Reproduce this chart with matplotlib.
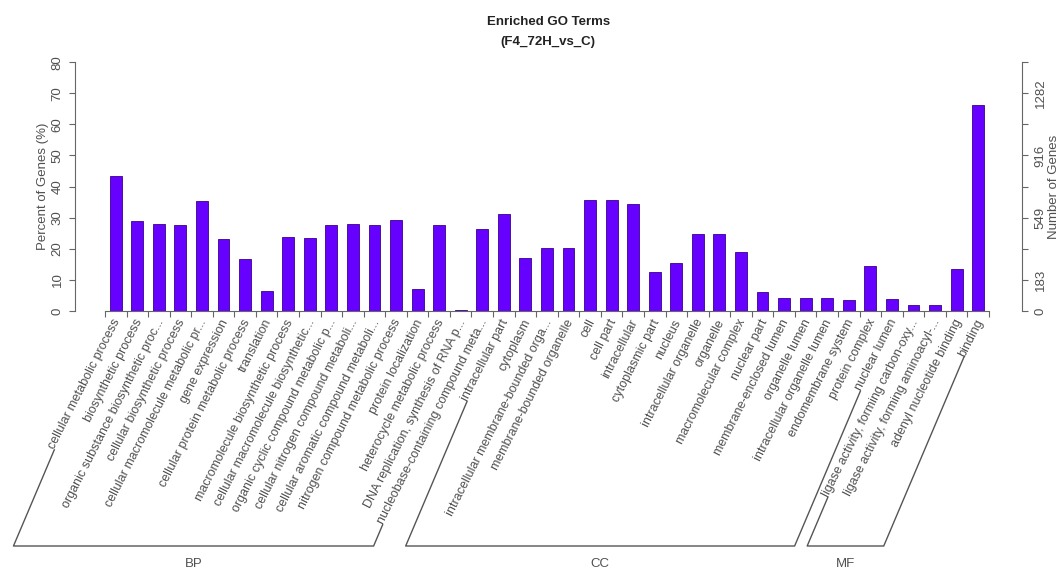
import matplotlib
matplotlib.use("Agg")
import matplotlib.pyplot as plt
import numpy as np
from matplotlib.lines import Line2D
from matplotlib.transforms import IdentityTransform

plt.rcParams['font.family'] = ['Liberation Sans', 'DejaVu Sans']

# ---------------- data ----------------
bp_terms = [
    "cellular metabolic process", "biosynthetic process",
    "organic substance biosynthetic proc...", "cellular biosynthetic process",
    "cellular macromolecule metabolic pr...", "gene expression",
    "cellular protein metabolic process", "translation",
    "macromolecule biosynthetic process", "cellular macromolecule biosynthetic...",
    "organic cyclic compound metabolic p...", "cellular nitrogen compound metaboli...",
    "cellular aromatic compound metaboli...", "nitrogen compound metabolic process",
    "protein localization", "heterocycle metabolic process",
    "DNA replication, synthesis of RNA p...", "nucleobase-containing compound meta...",
]
bp_pct = [43.4, 29.0, 28.1, 27.8, 35.5, 23.2, 16.6, 6.4, 23.9, 23.6,
          27.8, 27.9, 27.6, 29.3, 7.0, 27.5, 0.3, 26.4]

cc_terms = [
    "intracellular part", "cytoplasm", "intracellular membrane-bounded orga...",
    "membrane-bounded organelle", "cell", "cell part", "intracellular",
    "cytoplasmic part", "nucleus", "intracellular organelle", "organelle",
    "macromolecular complex", "nuclear part", "membrane-enclosed lumen",
    "organelle lumen", "intracellular organelle lumen", "endomembrane system",
    "protein complex", "nuclear lumen",
]
cc_pct = [31.2, 16.9, 20.3, 20.3, 35.8, 35.8, 34.3, 12.4, 15.3, 24.9,
          24.9, 18.9, 6.2, 4.2, 4.2, 4.2, 3.6, 14.5, 4.0]

mf_terms = [
    "ligase activity, forming carbon-oxy...", "ligase activity, forming aminoacyl-...",
    "adenyl nucleotide binding", "binding",
]
mf_pct = [1.9, 1.9, 13.6, 66.3]

groups = ["BP", "CC", "MF"]
left_ticks = [0, 10, 20, 30, 40, 50, 60, 70, 80]
right_tick_labels = ["0", "183", "", "549", "", "916", "", "1282", ""]

title_line1 = "Enriched GO Terms"
title_line2 = "(F4_72H_vs_C)"

# ---------------- figure ----------------
W, H = 1058, 570
fig = plt.figure(figsize=(W / 100, H / 100), dpi=100)
fig.patch.set_facecolor('white')

ax_l, ax_r, ax_b, ax_t = 75, 1021.7, 311, 62.2
ax = fig.add_axes([ax_l / W, 1 - ax_b / H, (ax_r - ax_l) / W, (ax_b - ax_t) / H])

terms = bp_terms + cc_terms + mf_terms
pct = bp_pct + cc_pct + mf_pct
sizes = [len(bp_terms), len(cc_terms), len(mf_terms)]
n = len(terms)
x = np.arange(n)

txt_col = '#505050'
axis_col = '#666666'

ax.bar(x, pct, width=0.55, color='#6600FF', edgecolor='#3a0090', linewidth=0.6, zorder=2)
ax.set_xlim(-1.89, 42.02)
ax.set_ylim(0, 80)

for s in ['top', 'right']:
    ax.spines[s].set_visible(False)
ax.spines['left'].set_color(axis_col)
ax.spines['bottom'].set_color(axis_col)
ax.spines['bottom'].set_bounds(-0.5, n - 0.5)
ax.set_xticks(np.arange(-0.5, n, 1.0))
ax.set_xticklabels([])
ax.tick_params(axis='x', length=4.2, width=0.8, color=axis_col)
ax.set_yticks(left_ticks)
ax.set_yticklabels([str(v) for v in left_ticks], rotation=90, va='center')
ax.tick_params(axis='y', length=4.2, width=0.8, color=axis_col, pad=4,
               labelsize=9.5, labelcolor=txt_col)

ax2 = ax.twinx()
ax2.set_ylim(0, 80)
for s in ['top', 'left', 'bottom']:
    ax2.spines[s].set_visible(False)
ax2.spines['right'].set_color(axis_col)
ax2.set_yticks(left_ticks)
ax2.set_yticklabels(right_tick_labels, rotation=90, va='center')
ax2.tick_params(axis='y', length=4.2, width=0.8, color=axis_col, pad=5,
                labelsize=9.5, labelcolor=txt_col)

# axis titles
fig.text(43 / W, 1 - 186.5 / H, "Percent of Genes (%)", rotation=90,
         ha='center', va='center', fontsize=9.5, color=txt_col)
fig.text(1054 / W, 1 - 186.5 / H, "Number of Genes", rotation=90,
         ha='center', va='center', fontsize=9.5, color=txt_col)

# title
cx = (ax_l + ax_r) / 2 / W
fig.text(cx, 1 - 22 / H, title_line1, ha='center', va='center',
         fontsize=9.5, fontweight='bold', color='#222222')
fig.text(cx, 1 - 42 / H, title_line2, ha='center', va='center',
         fontsize=9.5, fontweight='bold', color='#222222')

# category labels
rot = 63.0
labels = []
for i, lab in enumerate(terms):
    t = ax.annotate(lab, xy=(i, 0), xycoords='data', xytext=(2, -9),
                    textcoords='offset pixels', rotation=rot, rotation_mode='anchor',
                    ha='right', va='center', fontsize=9, color=txt_col,
                    annotation_clip=False)
    labels.append(t)

fig.canvas.draw()
renderer = fig.canvas.get_renderer()

th = np.deg2rad(rot)
c, s = np.cos(th), np.sin(th)


def label_start(t):
    bb = t.get_window_extent(renderer)
    Wb, Hb = bb.width, bb.height
    h = (Hb * c - Wb * s) / (c * c - s * s)
    bx, by = bb.x0 + h * s, bb.y0
    return bx - 0.3 * h * s, by + 0.3 * h * c


bracket_y = H - 546
group_label_y = H - 564
line_ang = np.deg2rad(67)
idx = 0
for g, size in zip(groups, sizes):
    first, last = labels[idx], labels[idx + size - 1]
    sx1, sy1 = label_start(first)
    sx2, sy2 = label_start(last)
    cx1 = sx1 - (sy1 - bracket_y) / np.tan(line_ang)
    cx2 = sx2 - (sy2 - bracket_y) / np.tan(line_ang)
    fig.add_artist(Line2D([sx1, cx1, cx2, sx2], [sy1, bracket_y, bracket_y, sy2],
                          transform=IdentityTransform(), color='#555555', lw=1.0))
    fig.text((cx1 + cx2) / 2, group_label_y, g, transform=IdentityTransform(),
             ha='center', va='center', fontsize=9.5, color=txt_col)
    idx += size

fig.savefig("out.png", dpi=100, facecolor='white')
